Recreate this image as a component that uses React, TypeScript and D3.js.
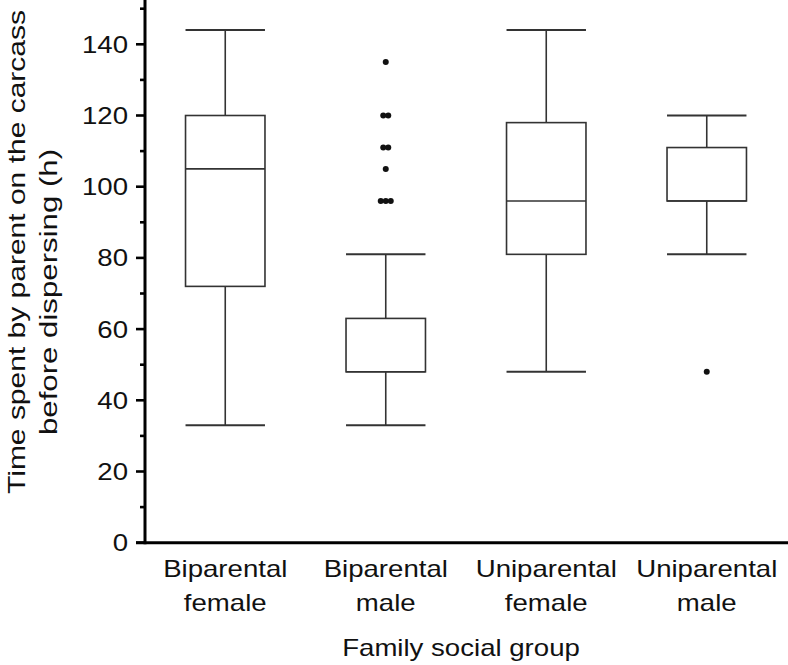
import React from "react";
import * as d3 from "d3";

const categories = ["Biparental female", "Biparental male", "Uniparental female", "Uniparental male"];
const labelLine1 = ["Biparental", "Biparental", "Uniparental", "Uniparental"];
const labelLine2 = ["female", "male", "female", "male"];
const whiskerLow = [33, 33, 48, 81];
const q1 = [72, 48, 81, 96];
const median = [105, 48, 96, 96];
const q3 = [120, 63, 118, 111];
const whiskerHigh = [144, 81, 144, 120];
const outliers: number[][] = [
  [],
  [96, 96, 96, 105, 111, 111, 120, 120, 135],
  [],
  [48],
];
const yTicksMajor = [0, 20, 40, 60, 80, 100, 120, 140];
const yTicksMinor = [10, 30, 50, 70, 90, 110, 130, 150];

const W = 788;
const H = 665;
const FONT = "'Liberation Sans', Arial, Helvetica, sans-serif";
const TEXT = "#111";
const LINE = "#333";

export default function App() {
  const x = d3.scaleBand<string>().domain(categories).range([145, 787]).paddingInner(0).paddingOuter(0);
  const y = d3.scaleLinear().domain([0, 140]).range([542.7, 44.3]);
  const boxW = x.bandwidth() * 0.495;

  return (
    <svg width={W} height={H} style={{ position: "absolute", left: 0, top: 0, background: "#fff" }}>
      {categories.map((c, i) => {
        const cx = (x(c) as number) + x.bandwidth() / 2;
        const l = cx - boxW / 2;
        const r = cx + boxW / 2;
        const counts: Record<number, number> = {};
        outliers[i].forEach((v) => (counts[v] = (counts[v] || 0) + 1));
        const seen: Record<number, number> = {};
        return (
          <g key={c} stroke={LINE} strokeWidth={1.6} fill="none">
            <line x1={cx} x2={cx} y1={y(whiskerHigh[i])} y2={y(q3[i])} />
            <line x1={cx} x2={cx} y1={y(q1[i])} y2={y(whiskerLow[i])} />
            <line x1={l} x2={r} y1={y(whiskerHigh[i])} y2={y(whiskerHigh[i])} strokeWidth={2} />
            <line x1={l} x2={r} y1={y(whiskerLow[i])} y2={y(whiskerLow[i])} strokeWidth={2} />
            <rect x={l} y={y(q3[i])} width={boxW} height={y(q1[i]) - y(q3[i])} fill="#fff" />
            <line x1={l} x2={r} y1={y(median[i])} y2={y(median[i])} />
            {outliers[i].map((v, j) => {
              const n = counts[v];
              const k = seen[v] || 0;
              seen[v] = k + 1;
              const dx = (k - (n - 1) / 2) * 5;
              return <circle key={j} cx={cx + dx} cy={y(v)} r={3} fill="#111" stroke="none" />;
            })}
          </g>
        );
      })}

      <line x1={145} x2={145} y1={0} y2={544.2} stroke="#000" strokeWidth={3} />
      <line x1={136} x2={788} y1={y(0)} y2={y(0)} stroke="#000" strokeWidth={3} />
      {yTicksMajor.map((t) => (
        <g key={"M" + t}>
          <line x1={136} x2={145} y1={y(t)} y2={y(t)} stroke="#000" strokeWidth={2.6} />
          <text
            transform={`translate(128,${y(t) + 8.5}) scale(1.2,1)`}
            textAnchor="end"
            fontFamily={FONT}
            fontSize={23}
            fill={TEXT}
          >
            {t}
          </text>
        </g>
      ))}
      {yTicksMinor.map((t) => (
        <line key={"m" + t} x1={140} x2={145} y1={y(t)} y2={y(t)} stroke="#000" strokeWidth={2.6} />
      ))}

      {categories.map((c, i) => {
        const cx = (x(c) as number) + x.bandwidth() / 2;
        return (
          <g key={"lab" + c} fontFamily={FONT} fontSize={23} fill={TEXT} textAnchor="middle">
            <text transform={`translate(${cx},577) scale(1.2,1)`}>{labelLine1[i]}</text>
            <text transform={`translate(${cx},611) scale(1.2,1)`}>{labelLine2[i]}</text>
          </g>
        );
      })}

      <text
        transform={`translate(461,656) scale(1.2,1)`}
        textAnchor="middle"
        fontFamily={FONT}
        fontSize={23}
        fill={TEXT}
      >
        Family social group
      </text>
      <g fontFamily={FONT} fontSize={24} fill={TEXT} textAnchor="middle">
        <text transform={`translate(25,252) rotate(-90) scale(1.25,1)`}>Time spent by parent on the carcass</text>
        <text transform={`translate(57,292) rotate(-90) scale(1.3,1)`}>before dispersing (h)</text>
      </g>
    </svg>
  );
}
